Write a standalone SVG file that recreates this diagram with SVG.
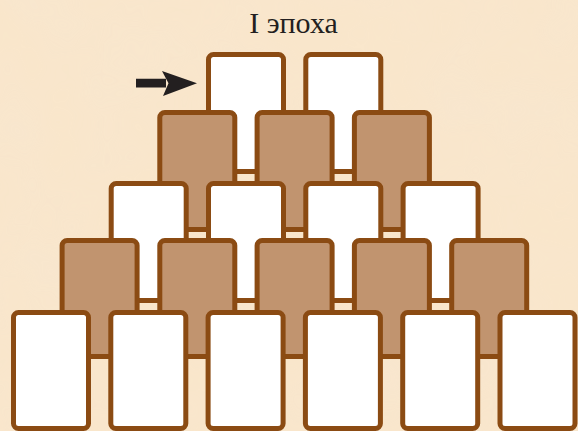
<svg xmlns="http://www.w3.org/2000/svg" width="578" height="431" viewBox="0 0 578 431">
  <defs>
    <filter id="paper" x="0" y="0" width="100%" height="100%">
      <feTurbulence type="fractalNoise" baseFrequency="0.012" numOctaves="3" seed="7" result="n"/>
      <feColorMatrix in="n" type="matrix" values="0 0 0 0 0.93  0 0 0 0 0.80  0 0 0 0 0.66  0 0 0 0.9 -0.25" result="c"/>
      <feComposite in="c" in2="SourceGraphic" operator="in"/>
    </filter>
    <style>
      .card { stroke: #8b4b13; stroke-width: 5; }
      .w { fill: #ffffff; }
      .b { fill: #c1946f; }
      .title { font-family: "Liberation Serif", "Times New Roman", serif; font-size: 30px; fill: #231f20; }
    </style>
  </defs>
  <rect x="0" y="0" width="578" height="431" fill="#f9e6cb"/>
  <rect x="0" y="0" width="578" height="431" fill="#f9e6cb" filter="url(#paper)" opacity="0.6"/>

  <text class="title" x="293.5" y="33" text-anchor="middle">I эпоха</text>

  <g id="row1">
    <g id="c1-1"><rect class="card w" x="208.5" y="54.5" width="75" height="117" rx="5"/></g>
    <g id="c1-2"><rect class="card w" x="305.8" y="54.5" width="75" height="117" rx="5"/></g>
  </g>
  <g id="row2">
    <g id="c2-1"><rect class="card b" x="159.8" y="112.5" width="75" height="117" rx="5"/></g>
    <g id="c2-2"><rect class="card b" x="257.1" y="112.5" width="75" height="117" rx="5"/></g>
    <g id="c2-3"><rect class="card b" x="354.4" y="112.5" width="75" height="117" rx="5"/></g>
  </g>
  <g id="row3">
    <g id="c3-1"><rect class="card w" x="111.2" y="183.5" width="75" height="117" rx="5"/></g>
    <g id="c3-2"><rect class="card w" x="208.5" y="183.5" width="75" height="117" rx="5"/></g>
    <g id="c3-3"><rect class="card w" x="305.8" y="183.5" width="75" height="117" rx="5"/></g>
    <g id="c3-4"><rect class="card w" x="403.1" y="183.5" width="75" height="117" rx="5"/></g>
  </g>
  <g id="row4">
    <g id="c4-1"><rect class="card b" x="62.1" y="240.5" width="75" height="116" rx="5"/></g>
    <g id="c4-2"><rect class="card b" x="159.8" y="240.5" width="75" height="116" rx="5"/></g>
    <g id="c4-3"><rect class="card b" x="257.1" y="240.5" width="75" height="116" rx="5"/></g>
    <g id="c4-4"><rect class="card b" x="354.4" y="240.5" width="75" height="116" rx="5"/></g>
    <g id="c4-5"><rect class="card b" x="451.7" y="240.5" width="75" height="116" rx="5"/></g>
  </g>
  <g id="row5">
    <g id="c5-1"><rect class="card w" x="13.5" y="312.5" width="75" height="116" rx="5"/></g>
    <g id="c5-2"><rect class="card w" x="110.8" y="312.5" width="75" height="116" rx="5"/></g>
    <g id="c5-3"><rect class="card w" x="208.1" y="312.5" width="75" height="116" rx="5"/></g>
    <g id="c5-4"><rect class="card w" x="305.4" y="312.5" width="75" height="116" rx="5"/></g>
    <g id="c5-5"><rect class="card w" x="402.7" y="312.5" width="75" height="116" rx="5"/></g>
    <g id="c5-6"><rect class="card w" x="500" y="312.5" width="75" height="116" rx="5"/></g>
  </g>

  <g id="connectors">
    <path d="M136 78.8 H166 V87.6 H136 Z M162 71 L197 83.2 L163 96 L168.5 83.2 Z" fill="#231f20"/>
  </g>
</svg>
